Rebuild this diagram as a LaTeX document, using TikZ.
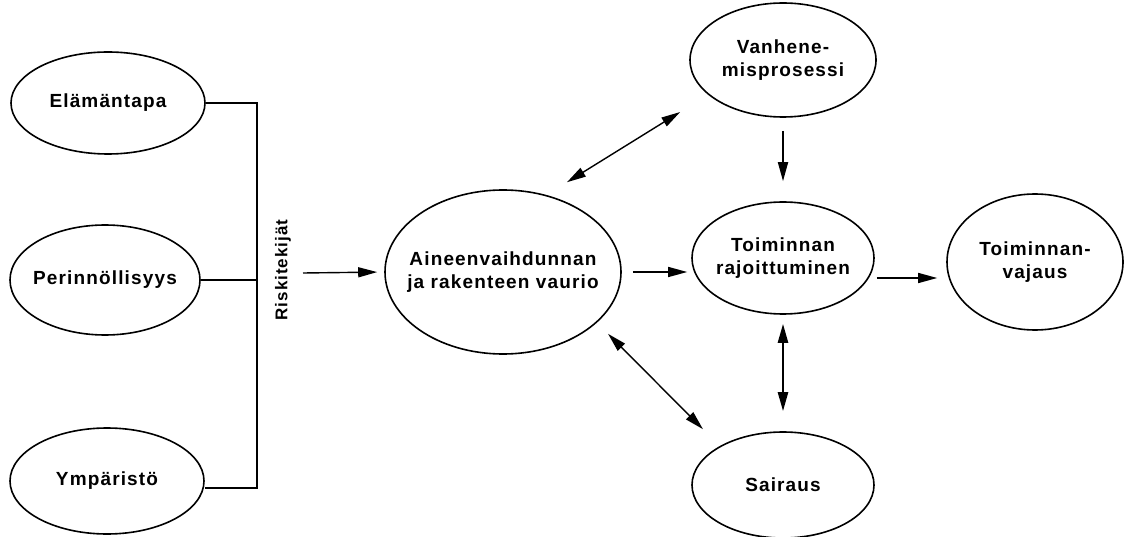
\documentclass[tikz,border=0pt]{standalone}
\usepackage{fontspec}
\setmainfont{Liberation Sans}[LetterSpace=6]
\usetikzlibrary{shapes.geometric,arrows.meta,calc}
\tikzset{
  oval/.style={ellipse, draw, line width=1.6pt, inner sep=0pt},
  txt/.style={font=\bfseries\fontsize{19}{23}\selectfont, align=center},
  arr/.style={line width=1.4pt, -{Triangle[length=19pt,width=10pt]}},
  darr/.style={line width=1.4pt, {Triangle[length=19pt,width=10pt]}-{Triangle[length=19pt,width=10pt]}},
  brk/.style={line width=1.6pt}
}
\begin{document}
\begin{tikzpicture}[x=1pt,y=-1pt]
\useasboundingbox[fill=white] (0,0) rectangle (1124,537);
% risk factors
\node[oval, minimum width=194pt, minimum height=102pt,
  label={[txt]center:Elämäntapa}] (el) at (108,103) {};
\node[oval, minimum width=190pt, minimum height=110pt,
  label={[txt]center:Perinnöllisyys}] (pe) at (105,280) {};
\node[oval, minimum width=194pt, minimum height=106pt,
  label={[txt]center:Ympäristö}] (ym) at (107,481) {};
% bracket joining the three factors
\coordinate (jt) at (257,103);
\coordinate (jb) at (257,488);
\draw[brk] (el.east) -- (jt) -- (jb) -- (ym.east |- jb);
\draw[brk] (pe.east) -- (pe.east -| jt);
\node[rotate=90, font=\bfseries\fontsize{17}{22}\selectfont] (rk) at (283,270) {Riskitekijät};
\coordinate (rka) at (303,273);
% central chain
\node[oval, minimum width=236pt, minimum height=164pt,
  label={[txt]center:Aineenvaihdunnan\\ja rakenteen vaurio}] (ai) at (503,272) {};
\node[oval, minimum width=182pt, minimum height=112pt,
  label={[txt]center:Toiminnan\\rajoittuminen}] (tr) at (783,258) {};
\node[oval, minimum width=186pt, minimum height=114pt,
  label={[txt]center:Vanhene-\\misprosessi}] (va) at (783,60) {};
\node[oval, minimum width=182pt, minimum height=106pt,
  label={[txt]center:Sairaus}] (sa) at (783,485) {};
\node[oval, minimum width=176pt, minimum height=136pt,
  label={[txt]center:Toiminnan-\\vajaus}] (tv) at (1035,262) {};
% connectors
\draw[arr, shorten >=7pt] (rka) -- (ai.west);
\draw[arr, shorten <=11pt, shorten >=4pt] (ai.east) -- (ai.east -| tr.west);
\draw[arr] ([shift={(2pt,-20pt)}]tr.east) -- ([shift={(-9pt,-16pt)}]tv.west);
\draw[arr, line width=1.8pt] ([yshift=-13pt]va.south) -- ([yshift=20pt]tr.north);
\draw[darr] ([shift={(64pt,7pt)}]ai.north) -- ([shift={(-9pt,-52pt)}]va.west);
\draw[darr] ([shift={(105pt,21pt)}]ai.south) -- ([shift={(-80pt,2pt)}]sa.north);
\draw[darr, line width=2.4pt] ([yshift=-9pt]tr.south) -- ([yshift=20pt]sa.north);
\end{tikzpicture}
\end{document}
